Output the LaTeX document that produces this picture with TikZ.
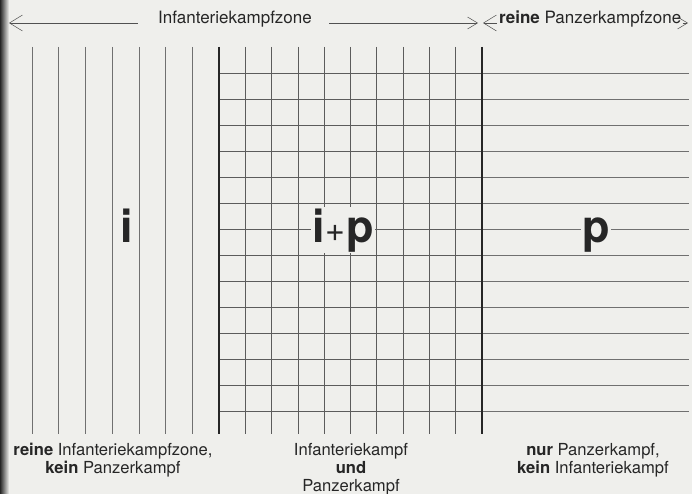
\documentclass[tikz,border=0pt]{standalone}
\usepackage{fontspec}
\setmainfont{TeX Gyre Heros}
\usepackage{xcolor}
\usetikzlibrary{arrows.meta,positioning}
\definecolor{paper}{HTML}{EFEFEC}
\definecolor{ink}{HTML}{262626}
\definecolor{pencil}{HTML}{707070}

\begin{document}
\begin{tikzpicture}[
  x=1pt, y=-1pt,
  toplabel/.style={font=\fontsize{17}{20}\selectfont, text=ink, inner sep=0pt},
  footlabel/.style={font=\fontsize{16.6}{18}\selectfont, text=ink, align=center,
    inner sep=0pt, anchor=base},
  bigletter/.style={font=\fontsize{45}{45}\selectfont\bfseries, text=ink,
    fill=paper, inner sep=1pt, anchor=base},
  gridline/.style={ink!75, line width=0.7pt},
  softline/.style={pencil, line width=0.6pt},
  borderline/.style={ink, line width=1.2pt},
  zonearrow/.style={-{Straight Barb[length=13pt, width=16pt]}, ink!80, line width=0.5pt},
  smallarrow/.style={-{Straight Barb[length=10pt, width=12pt]}, ink!80, line width=0.5pt}
]
\fill[paper] (0,0) rectangle (692,494);
\shade[left color=black!85, right color=paper] (0,0) rectangle (9,494);
\useasboundingbox (0,0) rectangle (692,494);
% ---------------- grid ----------------
\foreach \k in {0,...,6}
  \draw[softline] ({32+26.71*\k},47) -- ({32+26.71*\k},434);
\foreach \k in {1,...,9}
  \draw[gridline] ({219+26.3*\k},47) -- ({219+26.3*\k},434);
\foreach \k in {0,...,13} {
  \draw[gridline] (219,{73+26*\k}) -- (482,{73+26*\k});
  \draw[softline] (482,{73+26*\k}) -- (689,{73+26*\k});
}
\draw[borderline] (219,47) -- (219,434);
\draw[borderline] (482,47) -- (482,434);
% ---------------- zones on top ----------------
\node[toplabel, anchor=base] (izone) at (235,24) {Infanteriekampfzone};
\node[toplabel, anchor=base west] (pzone) at (499,24) {\textbf{reine} Panzerkampfzone};
\coordinate (izoneL) at (9,23);
\coordinate (izoneR) at (478,23);
\coordinate (pzoneL) at (483,23);
\coordinate (pzoneR) at (688,23);
\draw[zonearrow] ([xshift=-20pt, yshift=1pt]izone.base west) -- (izoneL);
\draw[smallarrow] ([xshift=17pt, yshift=1pt]izone.base east) -- (izoneR);
\draw[zonearrow] ([xshift=-2pt, yshift=1pt]pzone.base west) -- (pzoneL);
\draw[smallarrow] ([xshift=1pt, yshift=1pt]pzone.base east) -- (pzoneR);
% ---------------- letters ----------------
\node[bigletter] (iletter) at (127,242) {i};
\node[bigletter] (ipletter) at (343,242)
  {i\hspace{1pt}\raisebox{1pt}{\fontsize{34}{34}\selectfont\mdseries+}\hspace{1pt}p};
\node[bigletter] (pletter) at (596,242) {p};
% ---------------- captions ----------------
\node[footlabel] (ifoot) at (113,473)
  {\textbf{reine} Infanteriekampfzone,\\\textbf{kein} Panzerkampf};
\node[footlabel] (ipfoot) at (351,491)
  {Infanteriekampf\\\textbf{und}\\Panzerkampf};
\node[footlabel] (pfoot) at (593,473)
  {\textbf{nur} Panzerkampf,\\\textbf{kein} Infanteriekampf};
\end{tikzpicture}
\end{document}
